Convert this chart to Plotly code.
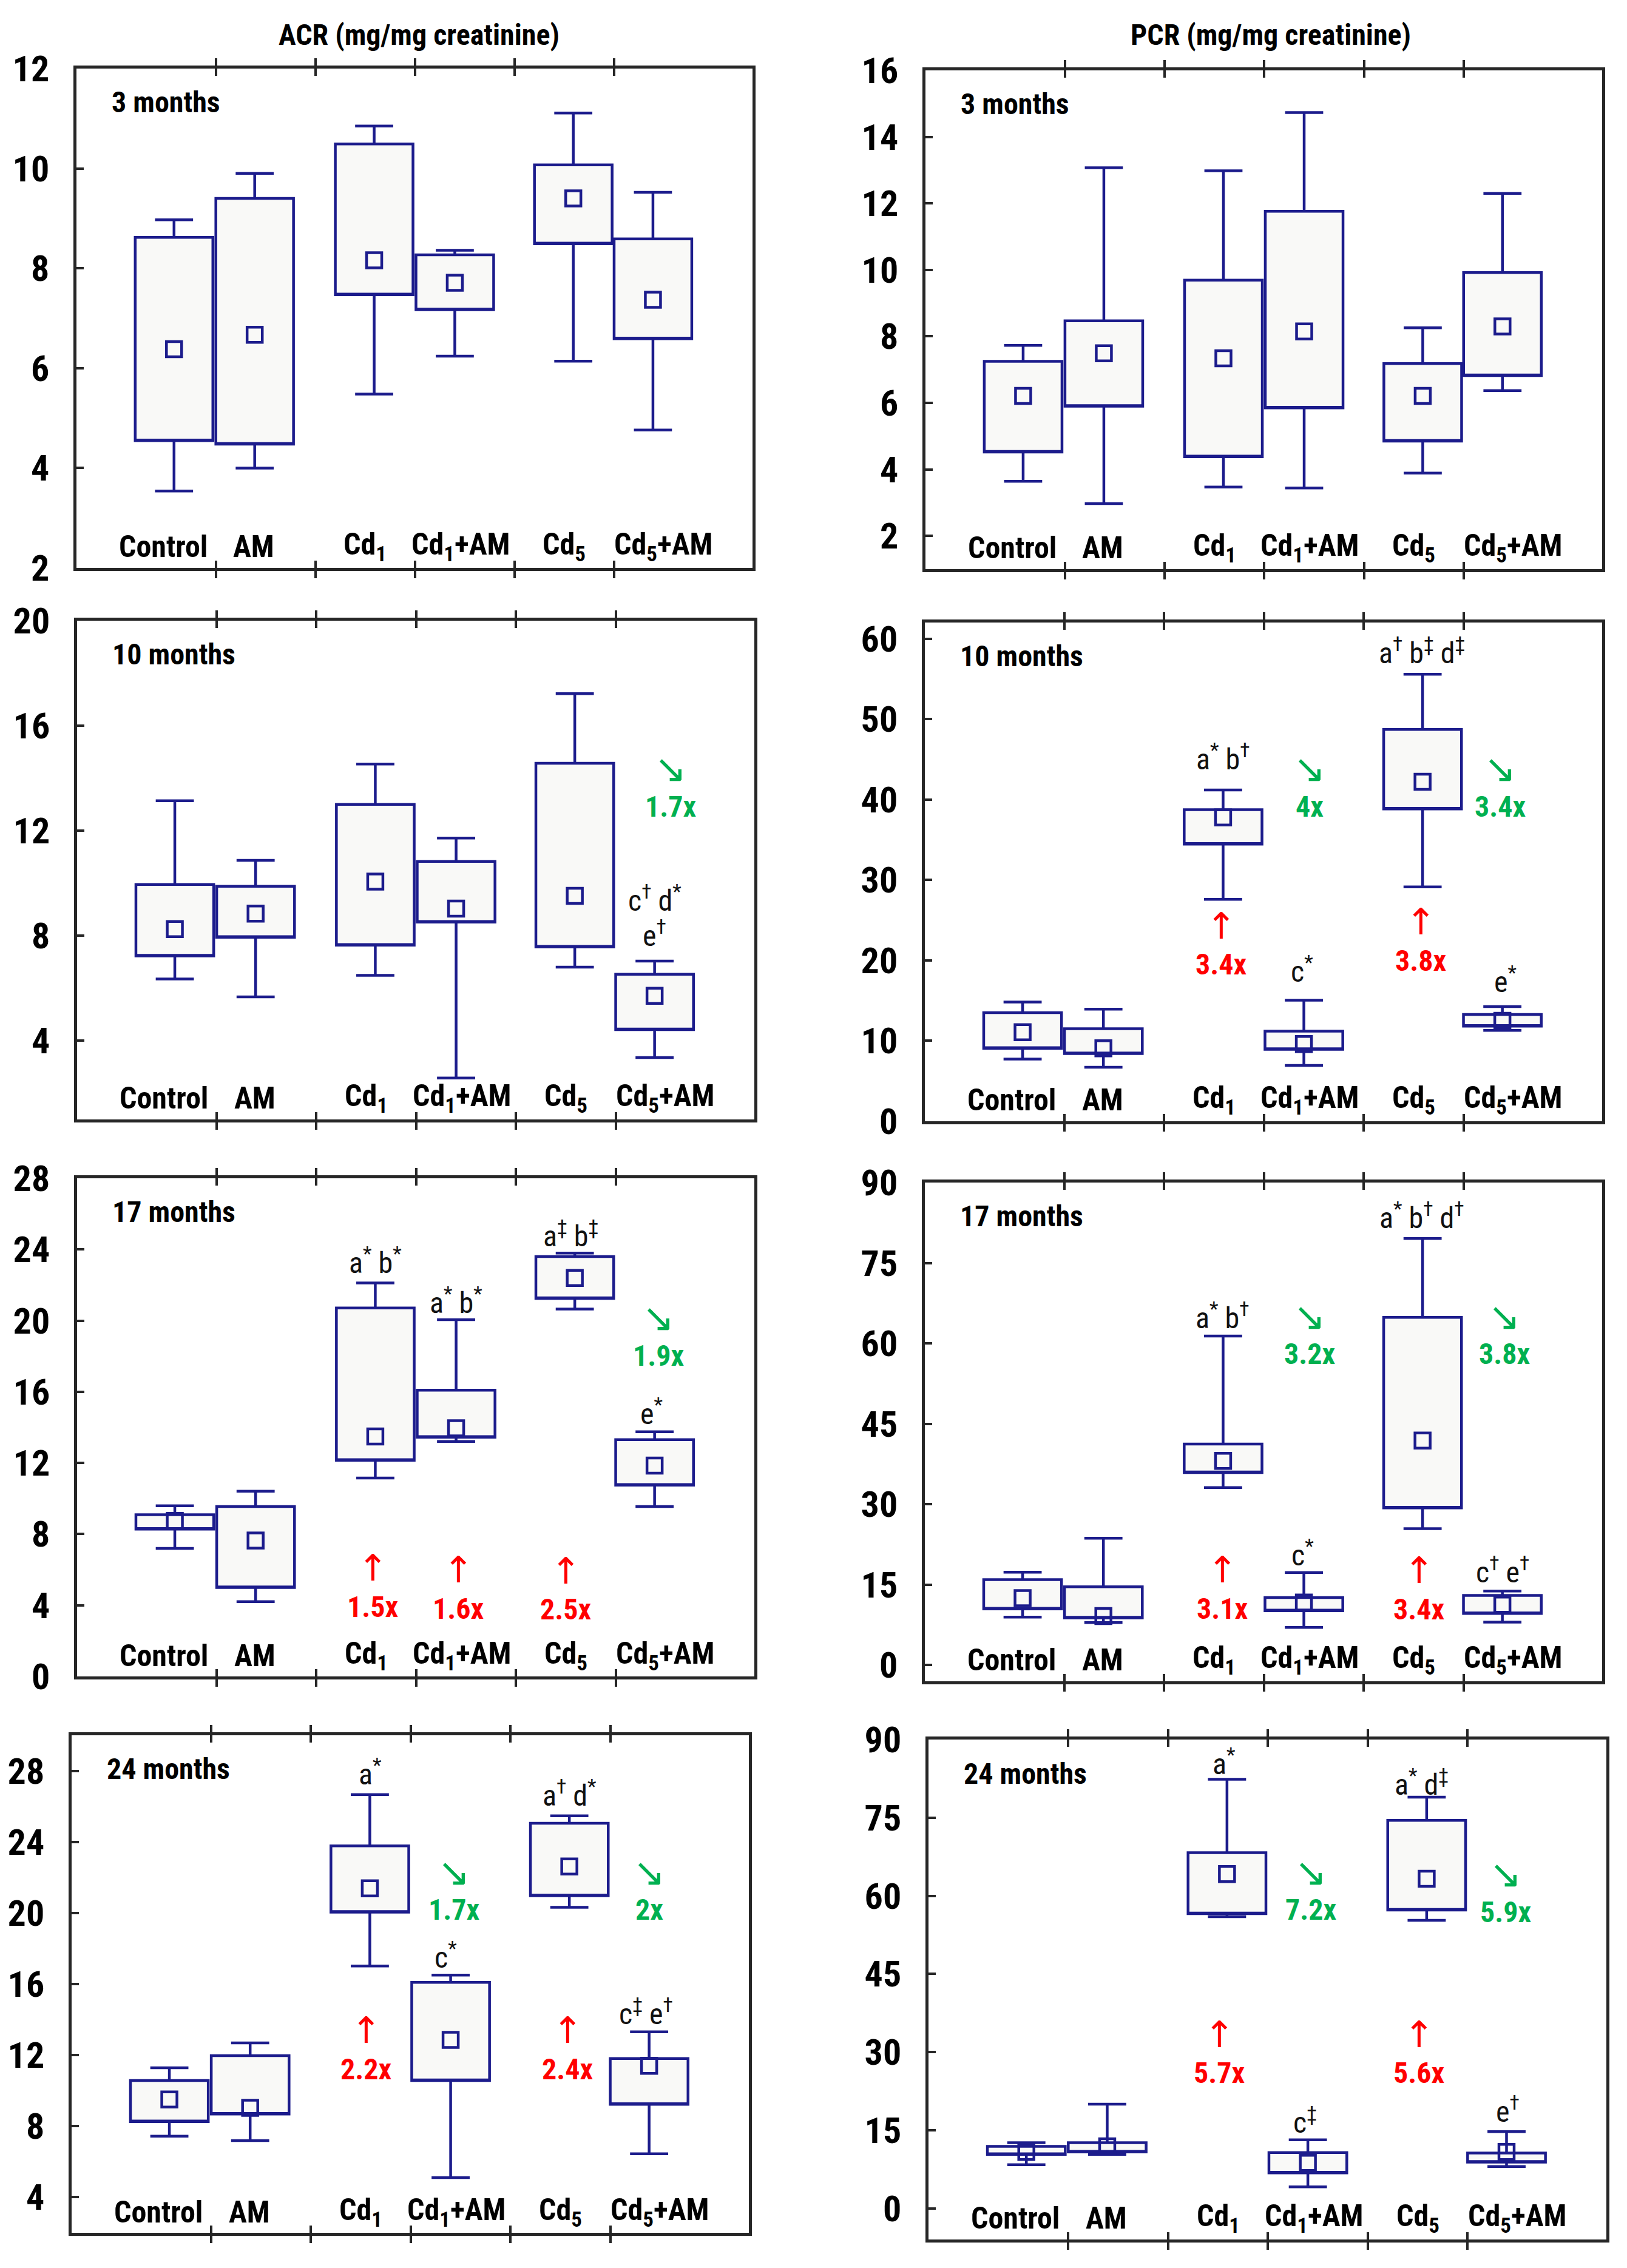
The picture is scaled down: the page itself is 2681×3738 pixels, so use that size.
import plotly.graph_objects as go

# ---------------- data ----------------
GROUPS = ["Control", "AM", "Cd<sub>1</sub>", "Cd<sub>1</sub>+AM", "Cd<sub>5</sub>", "Cd<sub>5</sub>+AM"]

# ACR 3 months
acr3_low = [3.54, 4.00, 5.48, 6.24, 6.14, 4.76]
acr3_q1 = [4.55, 4.48, 7.47, 7.17, 8.49, 6.59]
acr3_mid = [6.38, 6.67, 8.16, 7.71, 9.40, 7.37]
acr3_q3 = [8.62, 9.40, 10.49, 8.27, 10.07, 8.59]
acr3_high = [8.97, 9.90, 10.85, 8.36, 11.11, 9.52]
# PCR 3 months
pcr3_low = [3.64, 2.97, 3.47, 3.44, 3.89, 6.37]
pcr3_q1 = [4.52, 5.90, 4.38, 5.85, 4.85, 6.82]
pcr3_mid = [6.21, 7.49, 7.34, 8.15, 6.21, 8.30]
pcr3_q3 = [7.25, 8.47, 9.69, 11.76, 7.18, 9.92]
pcr3_high = [7.73, 13.07, 12.98, 14.73, 8.26, 12.30]
# ACR 10 months
acr10_low = [6.35, 5.67, 6.49, 2.58, 6.80, 3.36]
acr10_q1 = [7.23, 7.94, 7.64, 8.52, 7.57, 4.42]
acr10_mid = [8.25, 8.84, 10.06, 9.03, 9.52, 5.71]
acr10_q3 = [9.95, 9.88, 13.00, 10.83, 14.57, 6.53]
acr10_high = [13.14, 10.87, 14.54, 11.72, 17.22, 7.03]
# PCR 10 months
pcr10_low = [7.74, 6.72, 27.58, 6.94, 29.13, 11.29]
pcr10_q1 = [9.07, 8.41, 34.45, 8.94, 38.83, 11.82]
pcr10_mid = [11.06, 9.07, 37.77, 9.60, 42.20, 12.48]
pcr10_q3 = [13.50, 11.50, 38.74, 11.20, 48.71, 13.28]
pcr10_high = [14.83, 13.94, 41.18, 15.05, 55.57, 14.25]
# ACR 17 months
acr17_low = [7.20, 4.20, 11.15, 13.21, 20.65, 9.55]
acr17_q1 = [8.28, 5.00, 12.15, 13.45, 21.25, 10.75]
acr17_mid = [8.74, 7.64, 13.49, 13.95, 22.40, 11.85]
acr17_q3 = [9.09, 9.55, 20.71, 16.09, 23.60, 13.31]
acr17_high = [9.59, 10.41, 22.12, 20.05, 23.80, 13.75]
# PCR 17 months
pcr17_low = [8.96, 7.96, 33.11, 7.03, 25.46, 8.03]
pcr17_q1 = [10.49, 8.83, 35.91, 10.16, 29.32, 9.63]
pcr17_mid = [12.49, 9.16, 38.10, 11.69, 41.90, 11.29]
pcr17_q3 = [15.95, 14.62, 41.23, 12.62, 64.85, 13.02]
pcr17_high = [17.35, 23.67, 61.39, 17.28, 79.55, 13.82]
# ACR 24 months
acr24_low = [7.44, 7.19, 17.02, 5.11, 20.32, 6.45]
acr24_q1 = [8.26, 8.68, 20.05, 10.57, 20.97, 9.23]
acr24_mid = [9.50, 9.03, 21.39, 12.86, 22.62, 11.40]
acr24_q3 = [10.57, 11.97, 23.78, 16.09, 25.05, 11.81]
acr24_high = [11.29, 12.69, 26.66, 16.50, 25.47, 13.31]
# PCR 24 months
pcr24_low = [8.35, 10.33, 55.98, 4.11, 55.28, 8.00]
pcr24_q1 = [10.33, 10.82, 56.55, 6.80, 57.25, 8.84]
pcr24_mid = [10.82, 11.88, 64.17, 8.70, 63.25, 10.82]
pcr24_q3 = [11.88, 12.58, 68.26, 10.68, 74.47, 10.61]
pcr24_high = [12.58, 19.99, 82.38, 13.15, 78.92, 14.70]

MONTHS = ["3 months", "10 months", "17 months", "24 months"]
COL_TITLES = ["ACR (mg/mg creatinine)", "PCR (mg/mg creatinine)"]

# y tick values per panel
acr3_ticks = [2, 4, 6, 8, 10, 12]
pcr3_ticks = [2, 4, 6, 8, 10, 12, 14, 16]
acr10_ticks = [4, 8, 12, 16, 20]
pcr10_ticks = [0, 10, 20, 30, 40, 50, 60]
acr17_ticks = [0, 4, 8, 12, 16, 20, 24, 28]
pcr17_ticks = [0, 15, 30, 45, 60, 75, 90]
acr24_ticks = [4, 8, 12, 16, 20, 24, 28]
pcr24_ticks = [0, 15, 30, 45, 60, 75, 90]

# significance labels (x, y, text)
acr10_sig = [(5.39, 9.41, "c<sup>†</sup> d<sup>*</sup>"), (5.39, 8.05, "e<sup>†</sup>")]
pcr10_sig = [(2.59, 45.2, "a<sup>*</sup> b<sup>†</sup>"), (4.58, 58.4, "a<sup>†</sup> b<sup>‡</sup> d<sup>‡</sup>"),
             (3.38, 18.8, "c<sup>*</sup>"), (5.42, 17.5, "e<sup>*</sup>")]
acr17_sig = [(2.59, 23.36, "a<sup>*</sup> b<sup>*</sup>"), (3.40, 21.1, "a<sup>*</sup> b<sup>*</sup>"),
             (4.55, 24.86, "a<sup>‡</sup> b<sup>‡</sup>"), (5.36, 14.85, "e<sup>*</sup>")]
pcr17_sig = [(2.58, 65.05, "a<sup>*</sup> b<sup>†</sup>"), (4.58, 83.7, "a<sup>*</sup> b<sup>†</sup> d<sup>†</sup>"),
             (3.39, 20.8, "c<sup>*</sup>"), (5.39, 17.7, "c<sup>†</sup> e<sup>†</sup>")]
acr24_sig = [(2.59, 27.9, "a<sup>*</sup>"), (4.59, 26.7, "a<sup>†</sup> d<sup>*</sup>"),
             (3.35, 17.6, "c<sup>*</sup>"), (5.36, 14.4, "c<sup>‡</sup> e<sup>†</sup>")]
pcr24_sig = [(2.56, 85.6, "a<sup>*</sup>"), (4.54, 81.7, "a<sup>*</sup> d<sup>‡</sup>"),
             (3.37, 16.8, "c<sup>‡</sup>"), (5.40, 18.9, "e<sup>†</sup>")]

# fold changes: increases (red, up) and decreases (green, down): (x, y_arrow, text)
acr10_down = [(5.55, 14.36, "1.7x")]
pcr10_down = [(3.46, 43.8, "4x"), (5.37, 43.8, "3.4x")]
pcr10_up = [(2.57, 24.3, "3.4x"), (4.57, 24.8, "3.8x")]
acr17_down = [(5.43, 20.15, "1.9x")]
acr17_up = [(2.56, 6.1, "1.5x"), (3.42, 6.0, "1.6x"), (4.50, 5.94, "2.5x")]
pcr17_down = [(3.46, 65.05, "3.2x"), (5.41, 65.05, "3.8x")]
pcr17_up = [(2.58, 17.8, "3.1x"), (4.55, 17.7, "3.4x")]
acr24_down = [(3.43, 22.3, "1.7x"), (5.39, 22.3, "2x")]
acr24_up = [(2.55, 13.4, "2.2x"), (4.57, 13.4, "2.4x")]
pcr24_down = [(3.43, 64.5, "7.2x"), (5.38, 64.1, "5.9x")]
pcr24_up = [(2.51, 33.4, "5.7x"), (4.51, 33.4, "5.6x")]

# ---------------- layout constants ----------------
POS = [0.58, 1.39, 2.59, 3.40, 4.59, 5.39]
LABEL_X = [0.47, 1.38, 2.50, 3.46, 4.50, 5.50]
XRANGE = [-0.40, 6.39]
NAVY = "#1C1C8C"
FILL = "#F9F9F7"
RED = "#FF0000"
GREEN = "#00B050"
FRAME = "#262626"
NARROW = "Roboto Condensed, DejaVu Sans Condensed, sans-serif"
ARROWF = "DejaVu Sans, Liberation Sans, sans-serif"

PAGE_W, PAGE_H = 2681, 3738
OFF = 8                       # page body margin
W, H = PAGE_W - 2 * OFF, PAGE_H - 2 * OFF

panels = [
    (acr3_low, acr3_q1, acr3_mid, acr3_q3, acr3_high, [2, 12], acr3_ticks, [], [], [], (126, 1240), (113, 936)),
    (pcr3_low, pcr3_q1, pcr3_mid, pcr3_q3, pcr3_high, [1, 16], pcr3_ticks, [], [], [], (1525, 2640), (116, 938)),
    (acr10_low, acr10_q1, acr10_mid, acr10_q3, acr10_high, [1, 20], acr10_ticks, acr10_sig, [], acr10_down, (127, 1243), (1023, 1845)),
    (pcr10_low, pcr10_q1, pcr10_mid, pcr10_q3, pcr10_high, [0, 62], pcr10_ticks, pcr10_sig, pcr10_up, pcr10_down, (1524, 2640), (1026, 1848)),
    (acr17_low, acr17_q1, acr17_mid, acr17_q3, acr17_high, [0, 28], acr17_ticks, acr17_sig, acr17_up, acr17_down, (127, 1243), (1942, 2763)),
    (pcr17_low, pcr17_q1, pcr17_mid, pcr17_q3, pcr17_high, [-3, 90], pcr17_ticks, pcr17_sig, pcr17_up, pcr17_down, (1524, 2640), (1949, 2771)),
    (acr24_low, acr24_q1, acr24_mid, acr24_q3, acr24_high, [2, 30], acr24_ticks, acr24_sig, acr24_up, acr24_down, (118, 1234), (2860, 3680)),
    (pcr24_low, pcr24_q1, pcr24_mid, pcr24_q3, pcr24_high, [-6, 90], pcr24_ticks, pcr24_sig, pcr24_up, pcr24_down, (1530, 2647), (2867, 3691)),
]


def sfx(n):
    return "" if n == 1 else str(n)


def px_x(v):
    return (v - OFF) / W


def px_y(v):
    return 1 - (v - OFF) / H


fig = go.Figure()
annotations = []
layout = dict(
    template="none",
    width=W, height=H, margin=dict(l=0, r=0, t=0, b=0, pad=0, autoexpand=False),
    paper_bgcolor="white", plot_bgcolor="white", showlegend=False,
    boxmode="overlay",
)

for k, (lo, q1, mid, q3, hi, yr, ticks, sig, up, down, xpx, ypx) in enumerate(panels):
    i = k + 1
    xa, ya = "x" + sfx(i), "y" + sfx(i)
    xo = "x" + sfx(8 + i)
    xd = [px_x(xpx[0]), px_x(xpx[1])]
    yd = [px_y(ypx[1]), px_y(ypx[0])]

    fig.add_trace(go.Box(
        x=POS, q1=q1, median=q1, q3=q3, lowerfence=lo, upperfence=hi,
        width=0.78, whiskerwidth=0.49, fillcolor=FILL,
        line=dict(color=NAVY, width=4.5), boxpoints=False,
        xaxis=xa, yaxis=ya, hoverinfo="skip", showlegend=False,
    ))
    fig.add_trace(go.Scatter(
        x=POS, y=mid, mode="markers",
        marker=dict(symbol="square-open", size=25, color=NAVY, line=dict(width=4.5, color=NAVY)),
        xaxis=xa, yaxis=ya, hoverinfo="skip", showlegend=False,
    ))
    fig.add_trace(go.Scatter(x=[None], y=[None], xaxis=xo, yaxis=ya,
                             mode="markers", showlegend=False, hoverinfo="skip"))

    layout["xaxis" + sfx(i)] = dict(
        domain=xd, anchor=ya, range=XRANGE, tickvals=[1, 2, 3, 4, 5], showticklabels=False,
        ticks="outside", ticklen=12, tickwidth=4, tickcolor=FRAME,
        showline=True, linewidth=4.5, linecolor=FRAME, mirror="ticks",
        showgrid=False, zeroline=False, fixedrange=True, automargin=False,
    )
    layout["xaxis" + sfx(8 + i)] = dict(
        overlaying=xa, anchor=ya, range=XRANGE, tickvals=[1, 2, 3, 4, 5], showticklabels=False,
        ticks="inside", ticklen=12, tickwidth=4, tickcolor=FRAME,
        showline=False, mirror="ticks", showgrid=False, zeroline=False, automargin=False,
    )
    layout["yaxis" + sfx(i)] = dict(
        domain=yd, anchor=xa, range=yr, tickvals=ticks,
        ticks="inside", ticklen=12, tickwidth=4, tickcolor=FRAME,
        tickfont=dict(family=NARROW, size=60, color="black", weight="bold"),
        ticklabelstandoff=28,
        showline=True, linewidth=4.5, linecolor=FRAME, mirror=True,
        showgrid=False, zeroline=False, fixedrange=True, automargin=False,
    )

    annotations.append(dict(
        xref=xa + " domain", yref=ya + " domain", x=0.05, y=0.932,
        text=MONTHS[k // 2], showarrow=False, xanchor="left", yanchor="middle",
        font=dict(family=NARROW, size=48, color="black", weight="bold"),
    ))
    for gx, g in zip(LABEL_X, GROUPS):
        annotations.append(dict(
            xref=xa, yref=ya + " domain", x=gx, y=0.042, text=g, showarrow=False,
            xanchor="center", yanchor="middle",
            font=dict(family=NARROW, size=50, color="black", weight="bold"),
        ))
    for sx, sy, st in sig:
        annotations.append(dict(
            xref=xa, yref=ya, x=sx, y=sy, text=st, showarrow=False,
            xanchor="center", yanchor="middle",
            font=dict(family=NARROW, size=48, color="#111111"),
        ))
    for ux, uy, ut in up:
        annotations.append(dict(xref=xa, yref=ya, x=ux, y=uy, text="↑", showarrow=False,
                                xanchor="center", yanchor="middle",
                                font=dict(family=ARROWF, size=60, color=RED)))
        annotations.append(dict(xref=xa, yref=ya, x=ux, y=uy, yshift=-64, text=ut, showarrow=False,
                                xanchor="center", yanchor="middle",
                                font=dict(family=NARROW, size=48, color=RED, weight="bold")))
    for dx, dy, dt in down:
        annotations.append(dict(xref=xa, yref=ya, x=dx, y=dy, text="↘", showarrow=False,
                                xanchor="center", yanchor="middle",
                                font=dict(family=ARROWF, size=64, color=GREEN)))
        annotations.append(dict(xref=xa, yref=ya, x=dx, y=dy, yshift=-62, text=dt, showarrow=False,
                                xanchor="center", yanchor="middle",
                                font=dict(family=NARROW, size=48, color=GREEN, weight="bold")))

for cx, t in zip([690, 2094], COL_TITLES):
    annotations.append(dict(
        xref="paper", yref="paper", x=px_x(cx), y=px_y(58), text=t, showarrow=False,
        xanchor="center", yanchor="middle",
        font=dict(family=NARROW, size=48, color="black", weight="bold"),
    ))

layout["annotations"] = annotations
fig.update_layout(**layout)
fig.write_html("out.html")
